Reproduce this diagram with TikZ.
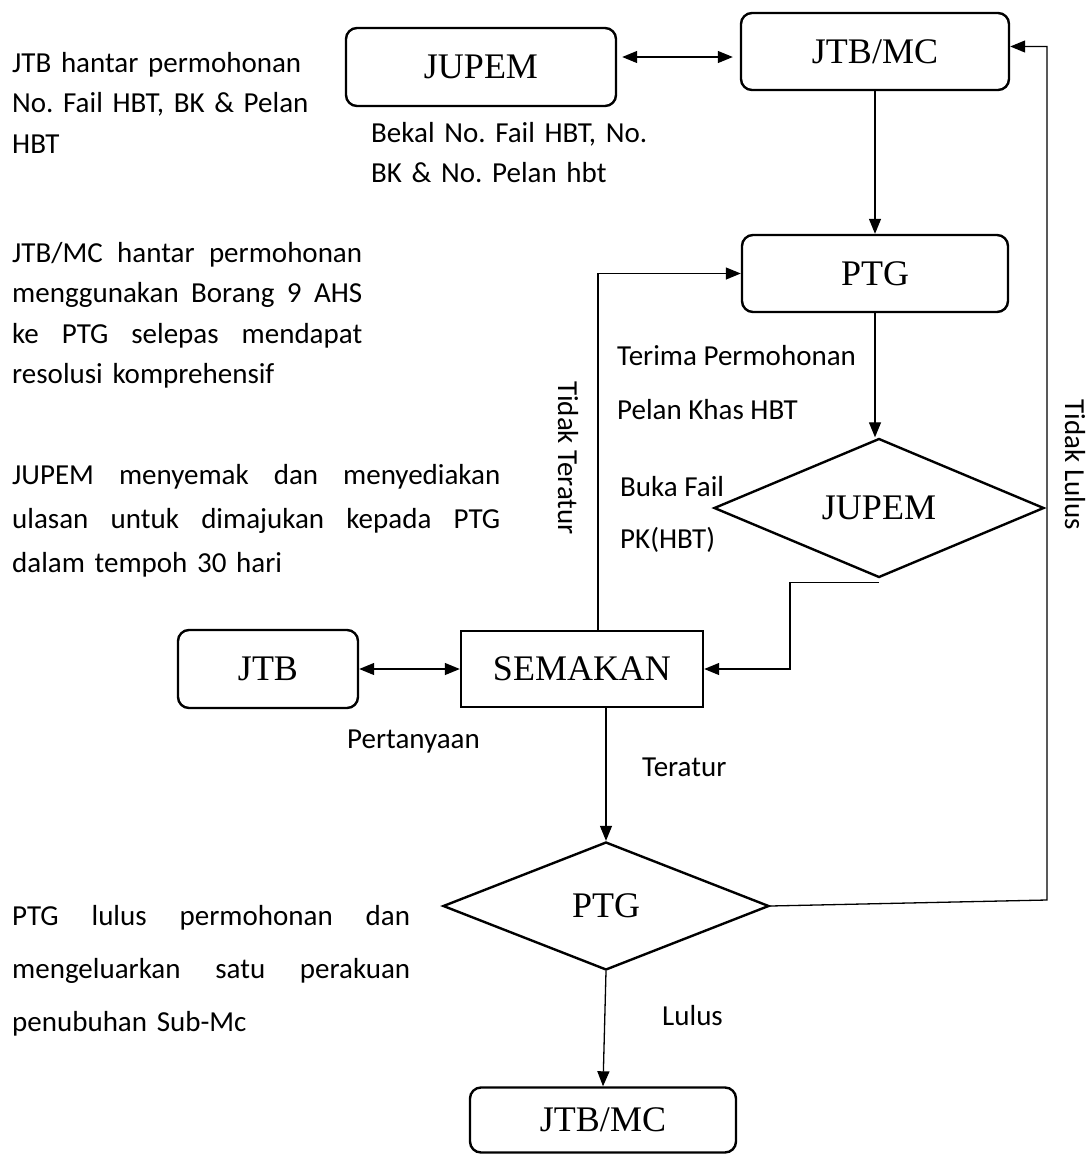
\documentclass[tikz,border=0pt]{standalone}
\usepackage{fontspec}
\setmainfont{Liberation Serif}
\newfontfamily\carlito{Carlito}
\usetikzlibrary{shapes.geometric,arrows.meta}
\frenchspacing
\newcommand{\spread}[2]{\leavevmode\hbox to #1{#2}}

\begin{document}
\begin{tikzpicture}[x=1pt,y=-1pt,>={Triangle[length=15pt,width=12pt]},
  box/.style={draw,line width=2.4pt,font=\fontsize{36}{40}\selectfont,inner sep=0pt},
  round box/.style={box,rectangle,rounded corners=11pt},
  plain box/.style={box,rectangle},
  choice/.style={box,diamond},
  link/.style={line width=1.3pt},
  note/.style={font=\carlito\fontsize{29}{40.5}\selectfont,inner sep=0pt,anchor=base west},
  para/.style={note,text width=#1}]
  \useasboundingbox (0,0) rectangle (1090,1160);

  % boxes
  \node[round box,minimum width=270pt,minimum height=78pt] (jupem) at (481,67) {JUPEM};
  \node[round box,minimum width=268pt,minimum height=77pt] (jtbmc) at (875,51.5) {JTB/MC};
  \node[round box,minimum width=266pt,minimum height=77pt] (ptg) at (875,273.5) {PTG};
  \node[choice,minimum width=330pt,minimum height=139pt] (jupemd) at (879,508) {JUPEM};
  \node[plain box,minimum width=242pt,minimum height=76pt] (semakan) at (582,669) {SEMAKAN};
  \node[round box,minimum width=180pt,minimum height=78pt] (jtb) at (268,669) {JTB};
  \node[choice,minimum width=326pt,minimum height=128pt] (ptgd) at (606,906) {PTG};
  \node[round box,minimum width=266pt,minimum height=65pt] (jtbmcb) at (603,1120) {JTB/MC};

  % connectors
  \draw[link,<->,shorten <=5pt,shorten >=7pt] ([yshift=10pt]jupem.east) -- ([yshift=-5.5pt]jtbmc.west);
  \draw[link,->] (jtbmc.south) -- (ptg.north);
  \draw[link,->] (ptg.south) -- (ptg.south |- jupemd.north);
  \draw[link,->] ([yshift=-4pt]jupemd.south) -- ++(-89,0) |- (semakan.east);
  \draw[link,<->] (jtb) -- (semakan);
  \draw[link,->] ([xshift=16pt]semakan.north) |- (ptg.west);
  \draw[link,->] (ptgd.north |- semakan.south) -- (ptgd.north);
  \coordinate (back) at (1047,900);
  \draw[link,->] (ptgd.east) -- (back) |- ([yshift=5pt]jtbmc.east);
  \draw[link,->] (ptgd.south) -- (jtbmcb.north);

  % labels on the arrows
  \node[para=290pt] (bekal) at (371,142) {Bekal No. Fail HBT, No.\\BK \& No. Pelan hbt};
  \node[note] (terima) at (617,365) {Terima Permohonan};
  \node[note] (pelan) at (617,419) {Pelan Khas HBT};
  \node[note] (buka) at (620,496) {Buka Fail};
  \node[note] (pk) at (620,548) {PK(HBT)};
  \node[note] (tanya) at (347,748) {Pertanyaan};
  \node[note] (teratur) at (642,776) {Teratur};
  \node[note] (lulus) at (662,1025) {Lulus};
  \node[note,anchor=center,rotate=-90] (tidakt) at (568,458) {Tidak Teratur};
  \node[note,anchor=center,rotate=-90] (tidakl) at (1075,465) {Tidak Lulus};

  % notes on the left
  \node[para=300pt] (step1) at (12,72) {JTB hantar permohonan\\No. Fail HBT, BK \& Pelan\\HBT};
  \node[para=350pt] (step2) at (12,262) {\spread{350pt}{JTB/MC\hfill hantar\hfill permohonan}\\\spread{350pt}{menggunakan\hfill Borang\hfill 9\hfill AHS}\\\spread{350pt}{ke\hfill PTG\hfill selepas\hfill mendapat}\\resolusi komprehensif};
  \node[para=488pt,font=\carlito\fontsize{29}{44}\selectfont] (step3) at (12,484) {\spread{488pt}{JUPEM\hfill menyemak\hfill dan\hfill menyediakan}\\\spread{488pt}{ulasan\hfill untuk\hfill dimajukan\hfill kepada\hfill PTG}\\dalam tempoh 30 hari};
  \node[para=398pt,font=\carlito\fontsize{29}{53}\selectfont] (step4) at (12,925) {\spread{398pt}{PTG\hfill lulus\hfill permohonan\hfill dan}\\\spread{398pt}{mengeluarkan\hfill satu\hfill perakuan}\\penubuhan Sub-Mc};
\end{tikzpicture}
\end{document}
